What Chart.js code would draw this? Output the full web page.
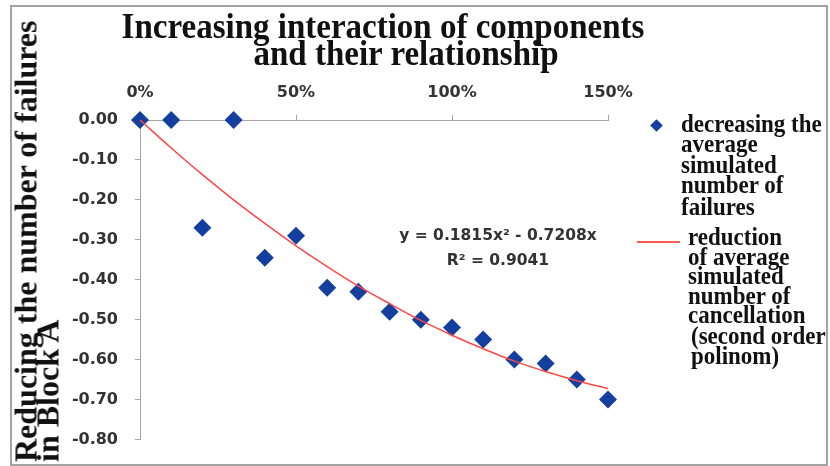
<!DOCTYPE html>
<html>
<head>
<meta charset="utf-8">
<script src="https://cdn.jsdelivr.net/npm/chart.js@4"></script>
<style>
  html,body{margin:0;padding:0;background:#fff;}
  #wrap{position:relative;width:830px;height:466px;overflow:hidden;}
  #frame{position:absolute;left:10px;top:5px;width:814px;height:457px;border:2px solid #a3a3a3;box-sizing:content-box;pointer-events:none;}
  canvas{position:absolute;left:0;top:0;}
  .serif{position:absolute;font-family:"Liberation Serif","Times New Roman",serif;font-weight:bold;color:#111;white-space:nowrap;}
  .t1,.t2{font-size:33px;line-height:27px;transform-origin:50% 100%;transform:translateX(-50%) scaleY(1.1);}
  #ytitle{left:0;top:0;font-size:32px;line-height:22px;transform-origin:0 0;transform:translate(14.5px,462px) rotate(-90deg);}
  .leg{font-size:23px;transform-origin:0 0;transform:scaleY(1.06);}
  .leg span{display:block;}
  #eq{position:absolute;left:398px;top:223px;width:200px;text-align:center;font-family:"DejaVu Sans",sans-serif;font-weight:bold;font-size:15.5px;line-height:25px;color:#333;white-space:nowrap;}
  #mk1{position:absolute;left:652px;top:121px;width:9px;height:9px;background:#143f9e;transform:rotate(45deg);transform-origin:50% 50%;}
  #mk2{position:absolute;left:637px;top:241px;width:43px;height:2px;background:#ff5a5a;}
</style>
</head>
<body>
<div id="wrap">
  <canvas id="chart" width="830" height="466"></canvas>
  <div class="serif t1" style="left:383px;top:14px;">Increasing interaction of components</div>
  <div class="serif t2" style="left:406px;top:41px;">and their relationship</div>
  <div class="serif" id="ytitle">Reducing the number of failures<br>in Block A</div>
  <div id="eq">y = 0.1815x² - 0.7208x<br>R² = 0.9041</div>
  <div id="mk1"></div>
  <div class="serif leg" style="left:681px;top:114px;line-height:19.4px;">
    <span>decreasing the</span><span>average</span><span>simulated</span><span>number of</span><span>failures</span>
  </div>
  <div id="mk2"></div>
  <div class="serif leg" style="left:688px;top:228px;line-height:18.6px;">
    <span>reduction</span><span>of average</span><span>simulated</span><span>number of</span><span>cancellation</span>
    <span style="margin-left:3px">(second order</span><span style="margin-left:3px">polinom)</span>
  </div>
  <div id="frame"></div>
</div>
<script>
// interaction increase in %
const interaction = [0,10,20,30,40,50,60,70,80,90,100,110,120,130,140,150];
const failureDrop = [0.00,0.00,-0.27,0.00,-0.345,-0.29,-0.42,-0.43,-0.48,-0.50,-0.52,-0.55,-0.60,-0.61,-0.65,-0.70];
const trendDrop   = [0.000,-0.070,-0.137,-0.200,-0.259,-0.315,-0.367,-0.416,-0.460,-0.502,-0.539,-0.573,-0.604,-0.630,-0.653,-0.673];
const xTicks = [0,50,100,150];
const yTicks = [0,-0.1,-0.2,-0.3,-0.4,-0.5,-0.6,-0.7,-0.8];

const tickFont = {family:'"DejaVu Sans", sans-serif', weight:'bold', size:16};
const axisGray = '#a6a6a6';

function pts(ys){ return interaction.map((x,i)=>({x:x, y:ys[i]})); }

new Chart(document.getElementById('chart').getContext('2d'), {
  type: 'scatter',
  data: {
    datasets: [
      { type:'line', data: pts(trendDrop), borderColor:'#ff4545', borderWidth:1.5, pointRadius:0,
        cubicInterpolationMode:'monotone', fill:false, order:0, clip:false },
      { data: pts(failureDrop), pointStyle:'rectRot', pointRadius:9, pointHoverRadius:9,
        backgroundColor:'#143f9e', borderColor:'#143f9e', borderWidth:0, order:1, clip:false }
    ]
  },
  options: {
    responsive:false, animation:false,
    layout:{ padding:{left:0, right:222, top:0, bottom:23} },
    plugins:{ legend:{display:false}, tooltip:{enabled:false}, title:{display:false} },
    scales:{
      x:{ type:'linear', position:'top', min:0, max:150,
        afterBuildTicks: s => { s.ticks = xTicks.map(v=>({value:v})); },
        afterFit: s => { s.height = 120; },
        ticks:{ callback: v => v+'%', font:tickFont, color:'#333', padding:13, maxRotation:0 },
        grid:{ drawOnChartArea:false, tickLength:5, color:axisGray },
        border:{ color:axisGray }
      },
      y:{ min:-0.8, max:0,
        afterBuildTicks: s => { s.ticks = yTicks.map(v=>({value:v})); },
        afterFit: s => { s.width = 140; },
        ticks:{ callback: v => (Math.abs(v)<1e-9 ? 0 : v).toFixed(2), font:tickFont, color:'#333', padding:17 },
        grid:{ drawOnChartArea:false, tickLength:5, color:axisGray },
        border:{ color:axisGray }
      }
    }
  }
});
</script>
</body>
</html>
